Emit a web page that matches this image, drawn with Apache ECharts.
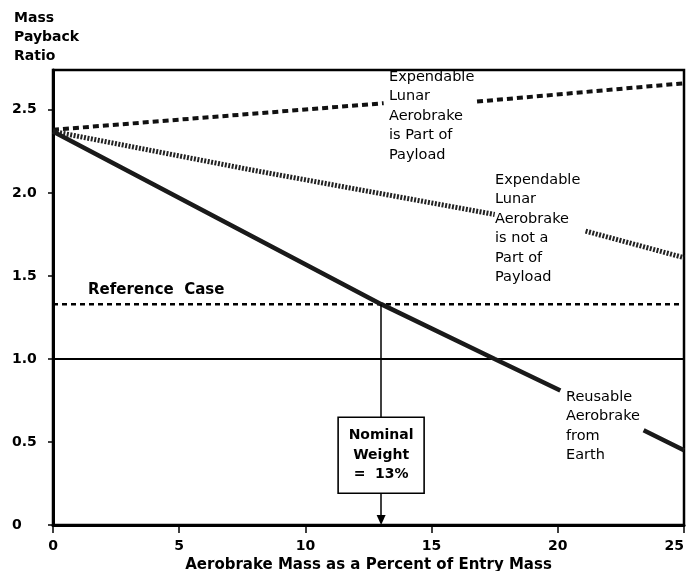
<!DOCTYPE html>
<html>
<head>
<meta charset="utf-8">
<script src="https://cdn.jsdelivr.net/npm/echarts@6/dist/echarts.min.js"></script>
<style>
  html, body { margin: 0; padding: 0; background: #fff; }
  #chart { width: 692px; height: 571px; }
</style>
</head>
<body>
<div id="chart"></div>
<script>
// values (x = aerobrake mass %, y = mass payback ratio)
const xTicks = [0, 5, 10, 15, 20, 25];
const partOfPayload = [[0, 2.38], [13.1, 2.54], null, [16.8, 2.55], [25, 2.66]];
const notPartOfPayload = [[0, 2.37], [7.8, 2.14], [17.5, 1.87], null, [21.1, 1.77], [25, 1.61]];
const reusable = [[0, 2.37], [13, 1.33], [17.5, 1.0], [20.1, 0.81], null, [23.4, 0.57], [25, 0.45]];
const referenceCase = [[0, 1.33], [25, 1.33]];
const unity = [[0, 1.0], [25, 1.0]];
const nominalWeight = 13;
const nominalText = 'Nominal\nWeight\n=  13%';

const REG = '14.5px "DejaVu Sans"';

function pts(arr) {
  return arr.map(p => p === null ? ['-', '-'] : p);
}

var chart = echarts.init(document.getElementById('chart'));

chart.setOption({
  animation: false,
  backgroundColor: '#fff',
  grid: {
    left: 53, right: 8, top: 70, bottom: 46,
    outerBoundsMode: 'none', containLabel: false,
    show: true, borderColor: '#000', borderWidth: 2.5, backgroundColor: 'transparent'
  },
  xAxis: {
    type: 'value', min: 0, max: 25, interval: 5,
    axisLine: { lineStyle: { color: '#000', width: 3 } },
    axisTick: { length: 8, lineStyle: { color: '#000', width: 1.5 } },
    axisLabel: {
      color: '#000', fontFamily: 'DejaVu Sans', fontWeight: 'bold', fontSize: 14, margin: 14,
      alignMaxLabel: 'right'
    },
    splitLine: { show: false },
    name: 'Aerobrake Mass as a Percent of Entry Mass',
    nameLocation: 'middle', nameGap: 31,
    nameTextStyle: { color: '#000', fontFamily: 'DejaVu Sans', fontWeight: 'bold', fontSize: 15 }
  },
  yAxis: {
    type: 'value', min: 0, max: 2.74, interval: 0.5,
    axisLine: { show: true, lineStyle: { color: '#000', width: 3 } },
    axisTick: { show: true, length: 5, lineStyle: { color: '#000', width: 1.5 } },
    axisLabel: {
      color: '#000', fontFamily: 'DejaVu Sans', fontWeight: 'bold', fontSize: 14,
      align: 'left', margin: 41, showMaxLabel: false,
      formatter: v => v === 0 ? '0' : v.toFixed(1)
    },
    splitLine: { show: false }
  },
  graphic: [
    { type: 'text', left: 14, top: 9, style: { text: 'Mass\nPayback\nRatio', font: 'bold 14px "DejaVu Sans"', fill: '#000', lineHeight: 19 } },
    { type: 'text', left: 389, top: 67, style: { text: 'Expendable\nLunar\nAerobrake\nis Part of\nPayload', font: REG, fill: '#000', lineHeight: 19.5 } },
    { type: 'text', left: 495, top: 170, style: { text: 'Expendable\nLunar\nAerobrake\nis not a\nPart of\nPayload', font: REG, fill: '#000', lineHeight: 19.5 } },
    { type: 'text', left: 566, top: 387, style: { text: 'Reusable\nAerobrake\nfrom\nEarth', font: REG, fill: '#000', lineHeight: 19.5 } },
    { type: 'text', left: 88, top: 283, style: { text: 'Reference  Case', font: 'bold 15px "DejaVu Sans"', fill: '#000' } }
  ],
  series: [
    {
      type: 'line', data: pts(unity), symbol: 'none', silent: true,
      lineStyle: { color: '#000', width: 2 }
    },
    {
      type: 'line', data: pts(referenceCase), symbol: 'none', silent: true,
      lineStyle: { color: '#000', width: 2.5, type: [5, 4] }
    },
    {
      type: 'line', data: pts(partOfPayload), symbol: 'none', connectNulls: false, silent: true,
      lineStyle: { color: '#111', width: 4, type: [6, 4] }
    },
    {
      type: 'line', data: pts(notPartOfPayload), symbol: 'none', connectNulls: false, silent: true,
      lineStyle: { color: '#222', width: 5, type: [2, 1.5] }
    },
    {
      type: 'line', data: pts(reusable), symbol: 'none', connectNulls: false, silent: true,
      lineStyle: { color: '#1a1a1a', width: 4.5 },
      markLine: {
        silent: true, symbol: ['none', 'triangle'], symbolSize: [9, 10],
        label: { show: false },
        lineStyle: { color: '#000', width: 1.5, type: 'solid' },
        data: [[{ coord: [nominalWeight, referenceCase[0][1]] }, { coord: [nominalWeight, 0.03] }]]
      }
    },
    {
      type: 'scatter', data: [[nominalWeight, 0.42]], silent: true, z: 10,
      symbol: 'rect', symbolSize: [86, 76],
      itemStyle: { color: '#fff', borderColor: '#000', borderWidth: 1.5, opacity: 1 },
      label: {
        show: true, position: 'inside', formatter: nominalText,
        color: '#000', fontFamily: 'DejaVu Sans', fontWeight: 'bold', fontSize: 14, lineHeight: 19.5
      }
    }
  ]
});
</script>
</body>
</html>
